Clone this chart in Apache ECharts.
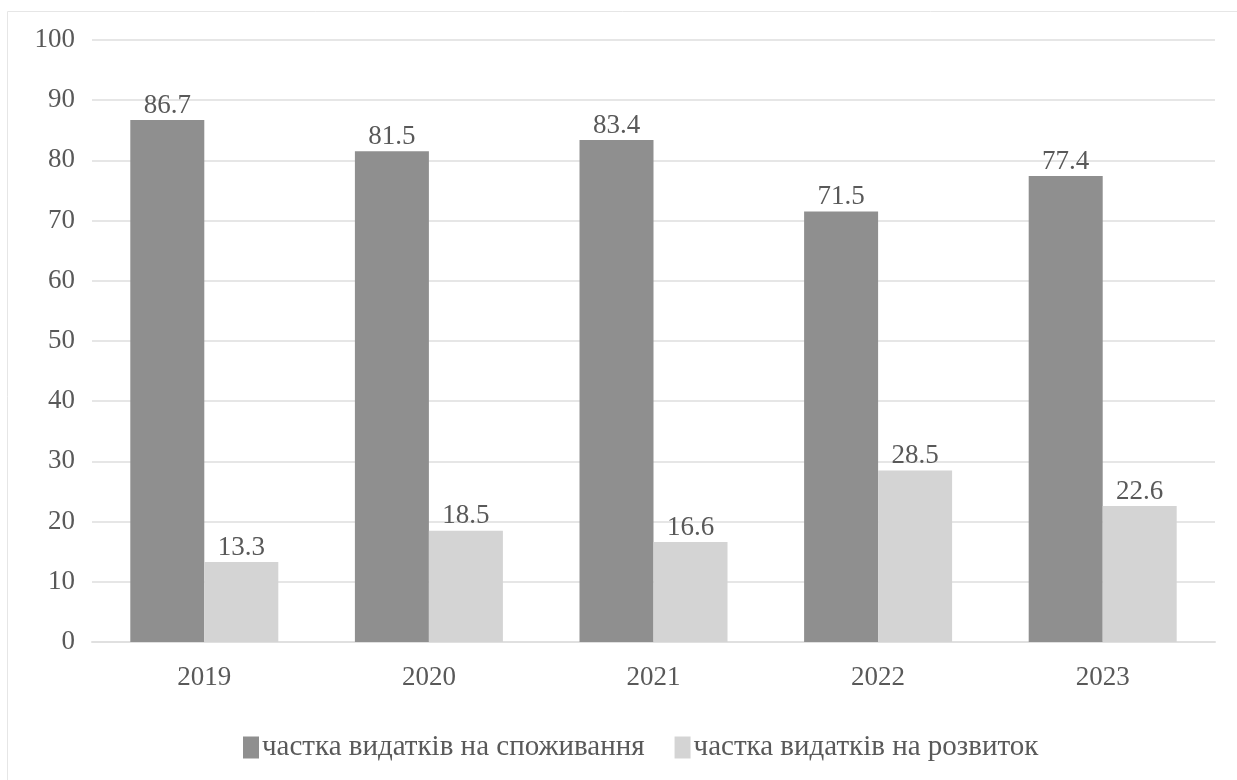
<!DOCTYPE html>
<html>
<head>
<meta charset="utf-8">
<script src="https://cdn.jsdelivr.net/npm/echarts@6/dist/echarts.min.js"></script>
<style>
  html, body { margin: 0; padding: 0; background: #fff; }
  #main { width: 1237px; height: 780px; }
</style>
</head>
<body>
<div id="main"></div>
<script>
var years = ['2019', '2020', '2021', '2022', '2023'];
var consumption = [86.7, 81.5, 83.4, 71.5, 77.4];
var development = [13.3, 18.5, 16.6, 28.5, 22.6];
var seriesNames = ['частка видатків на споживання', 'частка видатків на розвиток'];

var chart = echarts.init(document.getElementById('main'));
var font = '"Liberation Serif", "DejaVu Serif", serif';
var textColor = '#595959';

var option = {
  animation: false,
  textStyle: { fontFamily: font },
  graphic: [{
    type: 'rect',
    shape: { x: 7.5, y: 11.5, width: 1240, height: 780 },
    style: { fill: 'none', stroke: '#e6e6e6', lineWidth: 1 },
    silent: true
  }],
  grid: { left: 92, right: 22, top: 40, bottom: 138 },
  legend: {
    top: 728,
    left: 238,
    itemWidth: 16,
    itemHeight: 22,
    itemGap: 30,
    icon: 'rect',
    textStyle: { fontFamily: font, fontSize: 29, color: textColor, padding: [0, 0, 0, -2] },
    data: seriesNames
  },
  xAxis: {
    type: 'category',
    data: years,
    axisLine: { lineStyle: { color: '#e0e0e0', width: 2 } },
    axisTick: { show: false },
    axisLabel: { color: textColor, fontSize: 27, margin: 22, fontFamily: font }
  },
  yAxis: {
    type: 'value',
    min: 0,
    max: 100,
    interval: 10,
    axisLine: { show: false },
    axisTick: { show: false },
    axisLabel: { color: textColor, fontSize: 27, margin: 17, fontFamily: font },
    splitLine: { lineStyle: { color: '#e6e6e6', width: 2 } }
  },
  series: [
    {
      name: seriesNames[0],
      type: 'bar',
      data: consumption,
      barWidth: 74,
      barGap: '0%',
      itemStyle: { color: '#8f8f8f' },
      label: { show: true, position: 'top', distance: 1, color: textColor, fontSize: 27, fontFamily: font }
    },
    {
      name: seriesNames[1],
      type: 'bar',
      data: development,
      barWidth: 74,
      barGap: '0%',
      itemStyle: { color: '#d4d4d4' },
      label: { show: true, position: 'top', distance: 1, color: textColor, fontSize: 27, fontFamily: font }
    }
  ]
};

chart.setOption(option);
</script>
</body>
</html>
